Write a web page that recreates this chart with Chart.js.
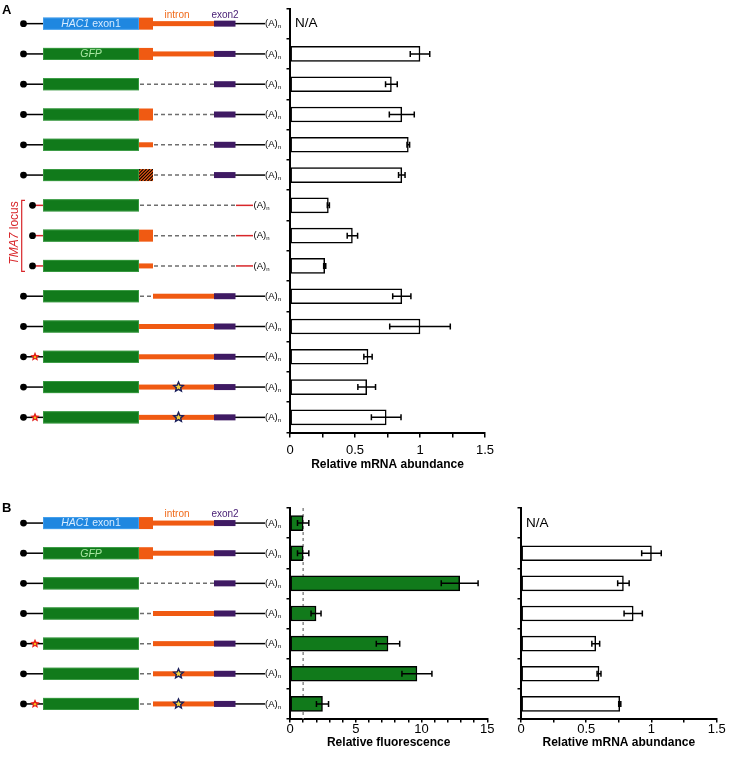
<!DOCTYPE html>
<html>
<head>
<meta charset="utf-8">
<script src="https://cdn.jsdelivr.net/npm/chart.js@4.4.0/dist/chart.umd.min.js"></script>
<style>
html, body { margin: 0; padding: 0; background: #fff; }
#wrap { position: relative; width: 729px; height: 760px; }
#wrap canvas { position: absolute; left: 0; top: 0; }
</style>
</head>
<body>
<div id="wrap">
  <canvas id="chartA" width="729" height="760"></canvas>
  <canvas id="chartB1" width="729" height="760"></canvas>
  <canvas id="chartB2" width="729" height="760"></canvas>
</div>
<script>
// constructs (one per row), panel A
var constructsA = [
  {ex1: 'hac1', junc: 'box', intron: 'full'},
  {ex1: 'gfp', junc: 'box', intron: 'full'},
  {ex1: 'plain', junc: 'none', intron: 'none'},
  {ex1: 'plain', junc: 'box', intron: 'none'},
  {ex1: 'plain', junc: 'thin', intron: 'none'},
  {ex1: 'plain', junc: 'hatch', intron: 'none'},
  {ex1: 'plain', junc: 'none', intron: 'none', tma7: true},
  {ex1: 'plain', junc: 'box', intron: 'none', tma7: true},
  {ex1: 'plain', junc: 'thin', intron: 'none', tma7: true},
  {ex1: 'plain', junc: 'none', intron: 'full'},
  {ex1: 'plain', junc: 'thin', intron: 'full'},
  {ex1: 'plain', junc: 'thin', intron: 'full', star5: true},
  {ex1: 'plain', junc: 'thin', intron: 'full', starIntron: true},
  {ex1: 'plain', junc: 'thin', intron: 'full', star5: true, starIntron: true}
];
var mrnaA = [null, 1.0, 0.78, 0.86, 0.91, 0.86, 0.295, 0.48, 0.267, 0.86, 1.0, 0.60, 0.59, 0.74];
var mrnaErrA = [null, 0.075, 0.045, 0.096, 0.01, 0.025, 0.008, 0.04, 0.008, 0.07, 0.233, 0.032, 0.068, 0.114];

// panel B
var constructsB = [
  {ex1: 'hac1', junc: 'box', intron: 'full'},
  {ex1: 'gfp', junc: 'box', intron: 'full'},
  {ex1: 'plain', junc: 'none', intron: 'none'},
  {ex1: 'plain', junc: 'none', intron: 'full'},
  {ex1: 'plain', junc: 'none', intron: 'full', star5: true},
  {ex1: 'plain', junc: 'none', intron: 'full', starIntron: true},
  {ex1: 'plain', junc: 'none', intron: 'full', star5: true, starIntron: true}
];
var fluorB = [1.0, 1.0, 12.9, 1.98, 7.45, 9.65, 2.47];
var fluorErrB = [0.43, 0.43, 1.4, 0.38, 0.89, 1.14, 0.46];
var mrnaB = [null, 1.0, 0.785, 0.86, 0.573, 0.598, 0.757];
var mrnaErrB = [null, 0.075, 0.044, 0.07, 0.03, 0.015, 0.008];

var mrnaTicks = [0, 0.5, 1, 1.5];
var fluorTicks = [0, 5, 10, 15];

var labelsA = constructsA.map(function (c, i) { return 'A' + (i + 1); });
var labelsB = constructsB.map(function (c, i) { return 'B' + (i + 1); });

var FONT = "'Liberation Sans', Arial, Helvetica, sans-serif";
Chart.defaults.font.family = FONT;
Chart.defaults.color = '#000';

var BLUE = '#1f87e0', GREEN = '#117a1b', ORANGE = '#f05a12', PURPLE = '#3f1a63', RED = '#d8262a';

function hline(ctx, x1, x2, y, color, dash) {
  ctx.save();
  ctx.strokeStyle = color;
  ctx.lineWidth = 1.5;
  if (dash) ctx.setLineDash([4, 3]);
  ctx.beginPath(); ctx.moveTo(x1, y); ctx.lineTo(x2, y); ctx.stroke();
  ctx.restore();
}

function star(ctx, cx, cy, ro, ri) {
  ctx.beginPath();
  for (var i = 0; i < 10; i++) {
    var r = i % 2 ? ri : ro;
    var a = -Math.PI / 2 + i * Math.PI / 5;
    ctx.lineTo(cx + r * Math.cos(a), cy + r * Math.sin(a));
  }
  ctx.closePath();
}

function polyA(ctx, x, y) {
  ctx.save();
  ctx.fillStyle = '#000';
  ctx.textBaseline = 'middle';
  ctx.font = '9.5px ' + FONT;
  ctx.fillText('(A)', x, y);
  var w = ctx.measureText('(A)').width;
  ctx.font = '6px ' + FONT;
  ctx.fillText('n', x + w, y + 3);
  ctx.restore();
}

//draws one construct row
function drawConstruct(ctx, c, y) {
  var dotX = c.tma7 ? 32.5 : 23.5;
  hline(ctx, dotX, 43, y, c.tma7 ? RED : '#000');
  var jEnd = c.junc === 'none' ? 139 : 153;
  if (c.tma7) {
    hline(ctx, jEnd + 1, 236, y, '#6e6e6e', true);
    hline(ctx, 236, 253, y, RED);
    polyA(ctx, 253.5, y);
  } else {
    if (c.intron === 'full') {
      if (c.junc === 'none') hline(ctx, 140, 153, y, '#6e6e6e', true);
    } else {
      hline(ctx, jEnd + 1, 214, y, '#6e6e6e', true);
    }
    hline(ctx, 235, 265, y, '#000');
    polyA(ctx, 265, y);
    ctx.fillStyle = ORANGE;
    if (c.intron === 'full') ctx.fillRect(153, y - 2.5, 61, 5);
    ctx.fillStyle = PURPLE;
    ctx.fillRect(214, y - 3, 21.5, 6);
  }
  // 5' cap
  ctx.fillStyle = '#000';
  ctx.beginPath(); ctx.arc(dotX, y, 3.4, 0, Math.PI * 2); ctx.fill();

  // exon 1 / GFP
  ctx.fillStyle = c.ex1 === 'hac1' ? BLUE : GREEN;
  ctx.fillRect(43, y - 6, 96, 12);
  ctx.strokeStyle = c.ex1 === 'hac1' ? '#4aa3ef' : '#3f9f47';
  ctx.lineWidth = 0.8;
  ctx.strokeRect(43.4, y - 5.6, 95.2, 11.2);
  ctx.textBaseline = 'middle';
  if (c.ex1 === 'hac1') {
    ctx.fillStyle = '#d6ebff';
    ctx.font = 'italic 10.5px ' + FONT;
    var w1 = ctx.measureText('HAC1').width;
    ctx.font = '10.5px ' + FONT;
    var w2 = ctx.measureText(' exon1').width;
    var sx = 91 - (w1 + w2) / 2;
    ctx.font = 'italic 10.5px ' + FONT;
    ctx.fillText('HAC1', sx, y + 0.5);
    ctx.font = '10.5px ' + FONT;
    ctx.fillText(' exon1', sx + w1, y + 0.5);
  } else if (c.ex1 === 'gfp') {
    ctx.fillStyle = '#a8e6a2';
    ctx.font = 'italic 10.5px ' + FONT;
    ctx.textAlign = 'center';
    ctx.fillText('GFP', 91, y + 0.5);
    ctx.textAlign = 'left';
  }

  // junction piece
  if (c.junc === 'box') {
    ctx.fillStyle = ORANGE;
    ctx.fillRect(139, y - 6, 14, 12);
  } else if (c.junc === 'thin') {
    ctx.fillStyle = ORANGE;
    ctx.fillRect(139, y - 2.5, 14, 5);
  } else if (c.junc === 'hatch') {
    ctx.save();
    ctx.fillStyle = ORANGE;
    ctx.fillRect(139, y - 6, 14, 12);
    ctx.beginPath(); ctx.rect(139, y - 6, 14, 12); ctx.clip();
    ctx.strokeStyle = '#000';
    ctx.lineWidth = 1.1;
    for (var k = -14; k < 20; k += 3.2) {
      ctx.beginPath(); ctx.moveTo(139 + k, y + 6); ctx.lineTo(139 + k + 12, y - 6); ctx.stroke();
    }
    ctx.restore();
  }

  if (c.star5) {
    ctx.save();
    star(ctx, 35, y, 5, 2.3);
    ctx.fillStyle = '#e3201b'; ctx.fill();
    ctx.fillStyle = '#f6c21a';
    ctx.beginPath(); ctx.arc(35, y + 0.3, 1.2, 0, Math.PI * 2); ctx.fill();
    ctx.restore();
  }
  if (c.starIntron) {
    ctx.save();
    star(ctx, 178.5, y, 5, 2.3);
    ctx.fillStyle = '#f2d23a'; ctx.fill();
    ctx.strokeStyle = '#1b1f5c'; ctx.lineWidth = 1.4; ctx.stroke();
    ctx.restore();
  }
}

function schematicPlugin(constructs, panel) {
  return {
    id: 'schematic' + panel,
    afterDraw: function (chart) {
      var ctx = chart.ctx, ys = chart.scales.y;
      ctx.save();
      constructs.forEach(function (c, i) {
        drawConstruct(ctx, c, ys.getPixelForValue(i));
      });
      var y0 = ys.getPixelForValue(0);
      ctx.textBaseline = 'middle';
      ctx.textAlign = 'center';
      ctx.font = '10px ' + FONT;
      ctx.fillStyle = '#f06a1a';
      ctx.fillText('intron', 177, y0 - 8.5);
      ctx.fillStyle = '#4b2277';
      ctx.fillText('exon2', 225, y0 - 8.5);
      // panel letter
      ctx.textAlign = 'left';
      ctx.fillStyle = '#000';
      ctx.font = 'bold 13px ' + FONT;
      ctx.fillText(panel, 2, ys.top + (panel === 'A' ? 2 : 0));
      // TMA7 bracket
      var t = [];
      constructs.forEach(function (c, i) { if (c.tma7) t.push(i); });
      if (t.length) {
        var ya = ys.getPixelForValue(t[0]) - 5, yb = ys.getPixelForValue(t[t.length - 1]) + 5.5;
        ctx.strokeStyle = RED; ctx.lineWidth = 1.2;
        ctx.beginPath();
        ctx.moveTo(25, ya); ctx.lineTo(21.7, ya); ctx.lineTo(21.7, yb); ctx.lineTo(25, yb);
        ctx.stroke();
        ctx.save();
        ctx.translate(14.5, (ya + yb) / 2 - 3);
        ctx.rotate(-Math.PI / 2);
        ctx.fillStyle = RED;
        ctx.font = 'italic 12px ' + FONT;
        var wa = ctx.measureText('TMA7').width;
        ctx.font = '12px ' + FONT;
        var wb = ctx.measureText(' locus').width;
        ctx.textAlign = 'left';
        ctx.font = 'italic 12px ' + FONT;
        ctx.fillText('TMA7', -(wa + wb) / 2, 0);
        ctx.font = '12px ' + FONT;
        ctx.fillText(' locus', -(wa + wb) / 2 + wa, 0);
        ctx.restore();
      }
      ctx.restore();
    }
  };
}

// error bars + N/A
var errPlugin = {
  id: 'errbars',
  afterDatasetsDraw: function (chart) {
    var ctx = chart.ctx, xs = chart.scales.x, ys = chart.scales.y;
    var ds = chart.data.datasets[0];
    ctx.save();
    ctx.strokeStyle = '#000';
    ctx.lineWidth = 1.5;
    ds.data.forEach(function (v, i) {
      var y = ys.getPixelForValue(i);
      if (v === null) {
        ctx.fillStyle = '#000';
        ctx.font = '13.5px ' + FONT;
        ctx.textBaseline = 'middle';
        ctx.fillText('N/A', chart.chartArea.left + 5, y);
        return;
      }
      var e = ds.errors[i];
      var x1 = xs.getPixelForValue(v - e), x2 = xs.getPixelForValue(v + e);
      if (x2 - x1 < 2) { x1 -= 1; x2 += 1; }
      ctx.beginPath();
      ctx.moveTo(x1, y); ctx.lineTo(x2, y);
      ctx.moveTo(x1, y - 3); ctx.lineTo(x1, y + 3);
      ctx.moveTo(x2, y - 3); ctx.lineTo(x2, y + 3);
      ctx.stroke();
    });
    ctx.restore();
  }
};

var refLine = {
  id: 'refline',
  beforeDatasetsDraw: function (chart) {
    var ctx = chart.ctx, x = chart.scales.x.getPixelForValue(1), a = chart.chartArea;
    ctx.save();
    ctx.strokeStyle = '#8a8a8a';
    ctx.lineWidth = 1.5;
    ctx.setLineDash([3, 3]);
    ctx.beginPath(); ctx.moveTo(x, a.top); ctx.lineTo(x, a.bottom); ctx.stroke();
    ctx.restore();
  }
};

function makeChart(id, labels, values, errs, o) {
  return new Chart(document.getElementById(id), {
    type: 'bar',
    data: {
      labels: labels,
      datasets: [{
        data: values,
        errors: errs,
        backgroundColor: o.fill,
        borderColor: '#000',
        borderWidth: 1.5,
        borderSkipped: false,
        barThickness: 15
      }]
    },
    options: {
      indexAxis: 'y',
      responsive: false,
      animation: false,
      events: [],
      layout: { padding: o.padding },
      plugins: { legend: { display: false }, tooltip: { enabled: false } },
      scales: {
        y: {
          ticks: { display: false },
          grid: { drawOnChartArea: false, tickLength: 3.5, color: '#000', lineWidth: 1.5 },
          border: { color: '#000', width: 2 },
          afterFit: function (s) { s.width = o.left; }
        },
        x: {
          min: 0, max: o.max,
          afterBuildTicks: function (s) {
            var t = [];
            for (var v = 0; v <= o.max + 1e-9; v += o.minor) t.push({ value: +v.toFixed(4) });
            s.ticks = t;
          },
          ticks: {
            autoSkip: false, maxRotation: 0,
            padding: o.tickPad,
            font: { size: 13 },
            color: '#000',
            callback: function (v) { return o.labels.indexOf(+v.toFixed(4)) >= 0 ? String(v) : ''; }
          },
          grid: { drawOnChartArea: false, tickLength: o.tickLen, color: '#000', lineWidth: 1.5 },
          border: { color: '#000', width: 2 },
          title: { display: true, text: o.title, font: { size: 12, weight: 'bold' }, color: '#000', padding: 0 },
          afterFit: function (s) { s.height = o.xh; }
        }
      }
    },
    plugins: o.plugins
  });
}

makeChart('chartA', labelsA, mrnaA, mrnaErrA, {
  fill: '#fff', max: 1.5, minor: 0.25, labels: mrnaTicks, left: 290,
  padding: { left: 0, right: 244, top: 8.5, bottom: 288 }, xh: 39.5,
  tickPad: 5, tickLen: 5, title: 'Relative mRNA abundance',
  plugins: [schematicPlugin(constructsA, 'A'), errPlugin]
});

makeChart('chartB1', labelsB, fluorB, fluorErrB, {
  fill: GREEN, max: 15, minor: 1, labels: fluorTicks, left: 290,
  padding: { left: 0, right: 241.7, top: 508, bottom: 10 }, xh: 31,
  tickPad: -1, tickLen: 3.5, title: 'Relative fluorescence',
  plugins: [schematicPlugin(constructsB, 'B'), refLine, errPlugin]
});

makeChart('chartB2', labelsB, mrnaB, mrnaErrB, {
  fill: '#fff', max: 1.5, minor: 0.25, labels: mrnaTicks, left: 521,
  padding: { left: 0, right: 12.3, top: 508, bottom: 10 }, xh: 31,
  tickPad: -1, tickLen: 3.5, title: 'Relative mRNA abundance',
  plugins: [errPlugin]
});
</script>
</body>
</html>
